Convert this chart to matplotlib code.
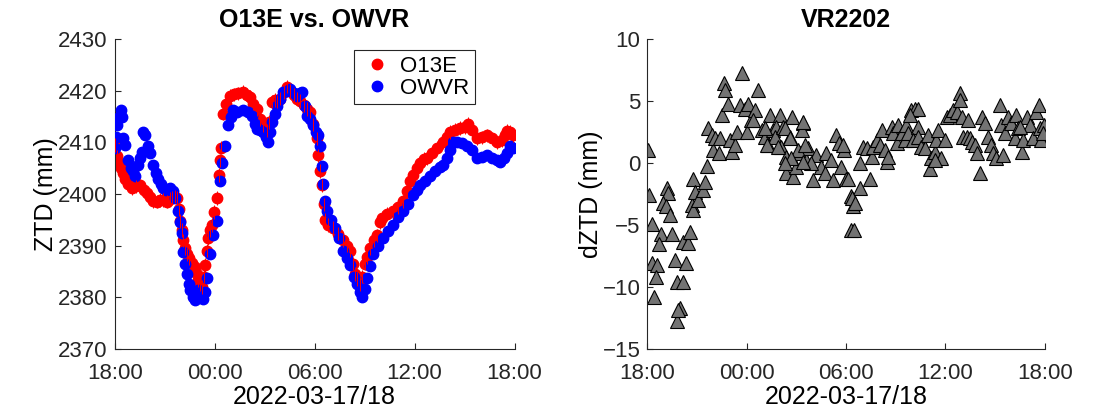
import numpy as np
import matplotlib.pyplot as plt

plt.rcParams['font.family'] = ['Liberation Sans', 'DejaVu Sans']

# hours since 2022-03-17 18:00
o13e_hours = [0.02, 0.14, 0.26, 0.38, 0.50, 0.62, 0.80, 1.04, 1.28, 1.52, 1.76, 1.94,
              2.12, 2.30, 2.54, 2.72, 2.90, 3.14, 3.32, 3.44, 3.62, 3.74, 3.86, 3.92,
              4.04, 4.10, 4.22, 4.34, 4.46, 4.64, 4.82, 4.94, 5.00, 5.12, 5.24, 5.36,
              5.42, 5.54, 5.60, 5.72, 5.84, 5.96, 6.14, 6.26, 6.32, 6.38, 6.50, 6.68,
              6.92, 7.16, 7.40, 7.70, 7.94, 8.12, 8.30, 8.54, 8.72, 8.90, 9.14, 9.26,
              9.44, 9.62, 9.74, 9.92, 10.16, 10.34, 10.52, 10.76, 10.94, 11.12, 11.36, 11.54,
              11.72, 11.90, 12.14, 12.20, 12.32, 12.44, 12.56, 12.62, 12.80, 13.10, 13.40, 13.70,
              13.94, 14.12, 14.30, 14.42, 14.54, 14.72, 14.84, 15.02, 15.14, 15.32, 15.56, 15.74,
              15.92, 16.04, 16.34, 16.70, 17.00, 17.30, 17.54, 17.72, 17.90, 18.14, 18.32, 18.56,
              18.74, 19.04, 19.34, 19.70, 19.94, 20.12, 20.42, 20.72, 21.02, 21.20, 21.44, 21.74,
              22.04, 22.34, 22.64, 22.94, 23.24, 23.42, 23.54, 23.72, 23.90]
o13e_ztd = [2409.5, 2407.3, 2406.0, 2405.0, 2404.0, 2403.0, 2402.0, 2401.2, 2401.5, 2401.7, 2400.8, 2400.2,
            2399.5, 2398.6, 2398.5, 2398.8, 2398.8, 2398.5, 2399.0, 2399.2, 2399.5, 2399.2, 2397.0, 2394.8,
            2393.0, 2391.0, 2389.5, 2388.3, 2387.5, 2386.7, 2385.8, 2384.5, 2383.3, 2382.5, 2382.0, 2384.0,
            2386.2, 2389.0, 2391.5, 2393.0, 2394.0, 2396.5, 2399.2, 2403.7, 2406.5, 2409.0, 2415.6, 2417.5,
            2419.0, 2419.3, 2419.5, 2419.8, 2419.2, 2418.8, 2417.5, 2416.5, 2414.5, 2413.3, 2412.3, 2414.0,
            2417.9, 2418.2, 2417.9, 2418.5, 2419.8, 2420.8, 2420.0, 2419.2, 2418.5, 2418.0, 2417.3, 2416.5,
            2416.0, 2413.5, 2410.8, 2407.5, 2404.5, 2401.7, 2398.0, 2395.0, 2394.0, 2393.5, 2392.3, 2391.0,
            2390.0, 2389.0, 2386.5, 2384.5, 2383.5, 2382.5, 2384.0, 2386.5, 2387.7, 2389.5, 2391.0, 2392.0,
            2394.5, 2395.4, 2396.2, 2396.7, 2397.5, 2398.6, 2400.5, 2402.5, 2403.7, 2405.0, 2406.0, 2406.8,
            2407.0, 2408.0, 2409.0, 2410.0, 2411.0, 2412.0, 2412.5, 2412.8, 2413.0, 2413.6, 2412.5, 2410.8,
            2411.0, 2411.4, 2410.8, 2410.0, 2410.5, 2411.5, 2412.3, 2412.0, 2411.4]

owvr_hours = [0.00, 0.08, 0.14, 0.26, 0.38, 0.44, 0.50, 0.62, 0.80, 0.98, 1.10, 1.22,
              1.40, 1.52, 1.64, 1.70, 1.82, 2.00, 2.12, 2.30, 2.48, 2.60, 2.78, 2.90,
              3.08, 3.32, 3.50, 3.62, 3.80, 3.92, 4.04, 4.10, 4.22, 4.34, 4.46, 4.52,
              4.70, 4.82, 5.00, 5.12, 5.30, 5.42, 5.54, 5.72, 5.90, 6.14, 6.32, 6.44,
              6.62, 6.80, 6.98, 7.10, 7.34, 7.70, 8.00, 8.24, 8.42, 8.54, 8.72, 8.90,
              9.08, 9.20, 9.32, 9.44, 9.62, 9.74, 9.92, 10.10, 10.34, 10.52, 10.76, 10.94,
              11.12, 11.24, 11.42, 11.54, 11.72, 11.90, 12.08, 12.20, 12.32, 12.44, 12.50, 12.62,
              12.74, 12.98, 13.22, 13.46, 13.70, 13.94, 14.12, 14.36, 14.54, 14.72, 14.84, 15.02,
              15.14, 15.32, 15.50, 15.80, 16.10, 16.40, 16.70, 17.00, 17.30, 17.60, 17.90, 18.14,
              18.32, 18.62, 18.92, 19.22, 19.52, 19.70, 19.94, 20.12, 20.30, 20.54, 20.84, 21.14,
              21.44, 21.74, 22.04, 22.34, 22.64, 22.94, 23.12, 23.36, 23.54, 23.72, 23.90]
owvr_ztd = [2409.0, 2411.0, 2413.3, 2415.0, 2416.2, 2415.0, 2410.8, 2409.5, 2406.5, 2405.0, 2404.4, 2403.5,
            2405.6, 2407.0, 2408.2, 2412.1, 2411.5, 2409.4, 2408.0, 2405.6, 2404.0, 2403.0, 2402.0, 2401.2,
            2400.8, 2401.2, 2400.5, 2399.2, 2396.7, 2394.5, 2392.5, 2388.7, 2386.5, 2384.4, 2382.5, 2381.3,
            2380.0, 2379.5, 2381.3, 2380.5, 2379.6, 2381.0, 2383.8, 2388.3, 2392.1, 2394.8, 2402.5, 2406.0,
            2409.4, 2413.3, 2415.0, 2416.2, 2416.0, 2416.2, 2416.0, 2415.2, 2413.5, 2412.7, 2412.5, 2412.0,
            2411.0, 2410.0, 2412.0, 2414.0, 2415.5, 2417.1, 2418.5, 2419.8, 2420.0, 2420.4, 2419.5, 2419.0,
            2419.5, 2419.8, 2417.0, 2415.2, 2414.5, 2413.3, 2412.0, 2411.4, 2409.4, 2405.5, 2402.0, 2398.6,
            2396.7, 2395.0, 2393.5, 2391.5, 2389.0, 2387.5, 2386.3, 2384.0, 2382.5, 2381.0, 2380.0, 2381.5,
            2383.8, 2386.0, 2388.3, 2390.0, 2391.5, 2392.8, 2394.0, 2395.5, 2396.7, 2398.0, 2399.8, 2400.8,
            2401.7, 2402.5, 2403.5, 2404.5, 2405.2, 2405.6, 2407.0, 2408.5, 2410.0, 2410.0, 2409.8, 2409.4,
            2408.5, 2407.0, 2407.2, 2407.5, 2407.0, 2406.5, 2406.3, 2407.0, 2408.0, 2409.4, 2409.0]

# VR2202 ZTD differences
vr_hours = [0.06, 0.10, 0.27, 0.30, 0.57, 0.50, 0.42, 0.83, 0.70, 1.17, 1.27, 0.97,
            1.11, 1.37, 1.51, 1.67, 1.77, 2.17, 1.97, 1.77, 1.87, 2.34, 2.17, 2.44,
            2.58, 2.78, 2.68, 2.78, 2.88, 3.08, 3.38, 3.48, 3.59, 3.68, 3.89, 3.99,
            4.09, 4.39, 4.33, 4.49, 4.65, 4.69, 4.85, 4.99, 5.13, 5.30, 5.40, 5.60,
            5.70, 5.90, 6.00, 6.10, 6.26, 6.70, 6.50, 6.40, 7.40, 8.00, 8.72, 9.42,
            9.32, 6.90, 7.10, 7.30, 7.60, 7.80, 7.70, 8.20, 8.60, 8.10, 8.40, 8.40,
            8.80, 9.00, 9.20, 9.60, 9.70, 10.00, 10.20, 10.50, 10.70, 10.80, 11.10, 11.20,
            11.40, 11.60, 11.70, 11.90, 12.00, 9.90, 9.43, 7.08, 8.30, 7.20, 7.90, 8.60,
            9.10, 9.50, 8.70, 8.30, 9.40, 12.10, 12.30, 12.40, 12.30, 11.80, 12.85, 12.34,
            12.54, 13.45, 12.48, 13.00, 12.85, 13.25, 13.55, 13.65, 13.85, 14.15, 14.05, 14.35,
            14.45, 14.55, 14.75, 14.85, 15.05, 15.15, 15.35, 15.65, 15.55, 15.75, 15.95, 16.15,
            16.35, 15.85, 16.35, 16.05, 16.35, 16.55, 16.75, 16.95, 17.15, 17.35, 17.45, 17.55,
            17.75, 17.95, 17.05, 17.35, 18.08, 18.28, 18.48, 18.68, 18.88, 18.88, 18.98, 19.38,
            19.08, 19.28, 19.48, 19.58, 19.78, 19.88, 20.08, 20.18, 20.38, 20.58, 20.78, 20.88,
            21.08, 21.48, 21.28, 21.38, 21.58, 21.78, 21.98, 22.28, 22.18, 22.38, 22.60, 22.70,
            22.90, 23.10, 23.30, 23.50, 23.65, 23.70, 23.80, 23.95, 23.90, 22.50]
vr_dztd = [1.05, -2.6, -4.9, -8.1, -8.25, -9.2, -10.8, -5.7, -6.5, -2.05, -2.45, -3.25,
           -3.5, -4.2, -5.7, -7.85, -9.6, -9.6, -11.75, -12.8, -11.9, -8.05, -6.4, -6.45,
           -5.55, -1.25, -3.4, -3.8, -2.3, -3.0, -2.2, -1.5, -0.25, 2.8, 2.25, 1.05,
           2.0, 2.0, 0.83, 3.9, 6.45, 5.9, 4.8, 1.86, 0.9, 1.45, 2.5, 4.7,
           7.25, 4.4, 2.5, 4.8, 3.5, 5.9, 4.3, 3.5, 3.9, 3.9, 3.75, 3.2,
           2.65, 2.65, 2.1, 1.45, 2.65, 2.9, 2.1, 2.9, 2.1, 1.3, 0.5, -0.83,
           -1.1, -0.3, 0.8, 0.25, 1.2, -1.4, 0.65, -0.3, -0.83, 0.8, 0.25, -1.4,
           2.25, 1.6, -0.3, 1.05, -1.25, 0.0, 3.35, 2.8, 2.8, 1.45, 1.3, 2.0,
           1.05, 1.45, 0.4, 0.0, 0.1, -1.25, -2.7, -3.5, -5.4, 1.45, -2.05, -2.85,
           -3.25, -1.25, -5.4, 1.3, 0.0, 1.2, 0.5, 1.3, 1.85, 2.65, 1.45, 1.05,
           0.1, 0.5, 2.9, 2.4, 1.6, 3.05, 2.4, 3.05, 1.85, 2.4, 4.3, 4.4,
           4.4, 3.9, 2.9, 1.85, 2.1, 1.3, 1.2, 2.25, 0.4, 0.9, 1.85, 2.65,
           0.4, 1.85, -0.45, 0.25, 3.75, 3.9, 4.3, 4.15, 5.65, 5.1, 3.75, 3.5,
           2.1, 2.1, 2.0, 1.7, 1.45, 0.8, -0.83, 3.75, 3.2, 2.1, 1.45, 0.8,
           0.4, 0.65, 4.7, 3.05, 2.4, 3.75, 3.2, 3.9, 2.0, 2.8, 0.9, 1.85,
           3.75, 3.05, 2.0, 4.15, 4.7, 2.8, 1.85, 3.05, 2.4, 2.9]

tick_hours = [0, 6, 12, 18, 24]
tick_labels = ['18:00', '00:00', '06:00', '12:00', '18:00']

fig = plt.figure(figsize=(10.94, 4.16), dpi=100)
ax1 = fig.add_axes([0.1048, 0.1618, 0.3655, 0.7437])
ax2 = fig.add_axes([0.5917, 0.1618, 0.3633, 0.7437])

ax1.plot(o13e_hours, o13e_ztd, 'o', color='red', markersize=7.5, label='O13E', zorder=2)
ax1.plot(owvr_hours, owvr_ztd, 'o', color='blue', markersize=7.5, label='OWVR', zorder=3)
ax1.errorbar(o13e_hours, o13e_ztd, yerr=1.3, fmt='none', ecolor='red', elinewidth=0.7,
             zorder=4)
ax1.set_ylim(2370, 2430)
ax1.set_yticks(np.arange(2370, 2431, 10))
ax1.set_ylabel('ZTD (mm)', fontsize=18, labelpad=0)
ax1.set_title('O13E vs. OWVR', fontsize=18, fontweight='bold', pad=9)
leg = ax1.legend(loc='upper right', bbox_to_anchor=(0.90, 0.965), fontsize=16,
                 fancybox=False, edgecolor='0.15', framealpha=1, handletextpad=0.2,
                 borderpad=0.25, labelspacing=0.05, borderaxespad=0, handlelength=1.6)
leg.get_frame().set_linewidth(0.8)

ax2.plot(vr_hours, vr_dztd, '^', markerfacecolor='0.45', markeredgecolor='black',
         markeredgewidth=0.8, markersize=9.5)
ax2.set_ylim(-15, 10)
ax2.set_yticks(np.arange(-15, 11, 5))
ax2.set_ylabel('dZTD (mm)', fontsize=18, labelpad=0)
ax2.set_title('VR2202', fontsize=18, fontweight='bold', pad=9)

for ax in (ax1, ax2):
    ax.set_xlim(0, 24)
    ax.set_xticks(tick_hours)
    ax.set_xticklabels(tick_labels)
    ax.set_xlabel('2022-03-17/18', fontsize=18, labelpad=1)
    ax.spines['top'].set_visible(False)
    ax.spines['right'].set_visible(False)
    for s in ('left', 'bottom'):
        ax.spines[s].set_color('0.15')
        ax.spines[s].set_linewidth(0.8)
    ax.tick_params(direction='in', length=4, width=0.8, color='0.15', labelsize=16,
                   labelcolor='0.15')
    ax.tick_params(axis='y', pad=5)
    ax.tick_params(axis='x', pad=10)

fig.savefig('out.png', dpi=100)
